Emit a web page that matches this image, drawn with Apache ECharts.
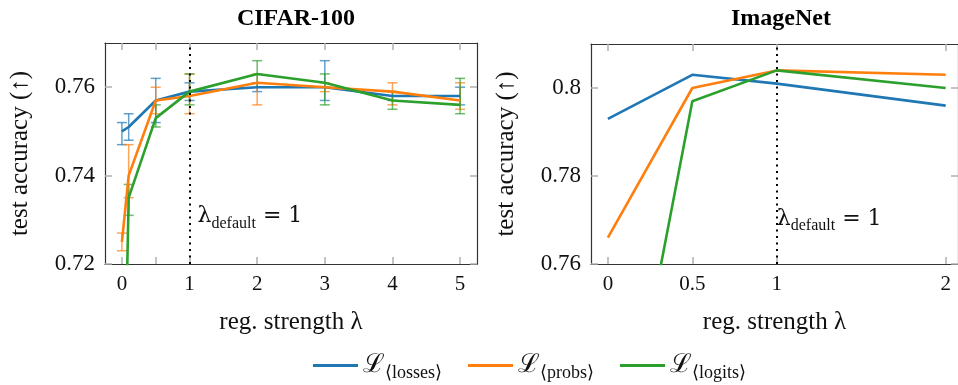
<!DOCTYPE html>
<html>
<head>
<meta charset="utf-8">
<script src="https://cdn.jsdelivr.net/npm/echarts@6/dist/echarts.min.js"></script>
<style>
  html, body { margin: 0; padding: 0; background: #fff; }
  #chart { width: 958px; height: 385px; }
</style>
</head>
<body>
<div id="chart"></div>
<script>
// CIFAR-100 (mean with lower / upper error bar)
const cifarX = [0, 0.1, 0.5, 1, 2, 3, 4, 5];
const cifarLosses = [0.750, 0.751, 0.757, 0.759, 0.760, 0.760, 0.758, 0.758];
const cifarLossesLo = [0.747, 0.748, 0.752, 0.757, 0.759, 0.757, 0.757, 0.756];
const cifarLossesHi = [0.752, 0.754, 0.762, 0.761, 0.761, 0.766, 0.759, 0.760];
const cifarProbs = [0.725, 0.740, 0.757, 0.758, 0.761, 0.760, 0.759, 0.757];
const cifarProbsLo = [0.723, 0.735, 0.754, 0.754, 0.756, 0.759, 0.756, 0.755];
const cifarProbsHi = [0.727, 0.747, 0.760, 0.763, 0.763, 0.761, 0.761, 0.761];
const cifarLogits = [0.660, 0.735, 0.753, 0.759, 0.763, 0.761, 0.757, 0.756];
const cifarLogitsLo = [0.655, 0.731, 0.751, 0.756, 0.760, 0.756, 0.755, 0.754];
const cifarLogitsHi = [0.665, 0.738, 0.756, 0.763, 0.766, 0.763, 0.759, 0.762];

// ImageNet
const imagenetX = [0, 0.5, 1, 2];
const imagenetLosses = [0.793, 0.803, 0.801, 0.796];
const imagenetProbs = [0.766, 0.800, 0.804, 0.803];
const imagenetLogits = [0.697, 0.797, 0.804, 0.800];

const cifarXTicks = [0, 0.5, 1, 2, 3, 4, 5];
const cifarXLabels = [0, 1, 2, 3, 4, 5];
const cifarYTicks = [0.72, 0.74, 0.76];
const imagenetXTicks = [0, 0.5, 1, 2];
const imagenetYTicks = [0.76, 0.78, 0.8];

const names = ["losses", "probs", "logits"];
const colors = ["#1f77b4", "#ff7f0e", "#2ca02c"];
const defaultLambda = 1;

const serif = "Liberation Serif";
const boxLine = { show: true, onZero: false, lineStyle: { color: "#333", width: 1.2 } };
const tickStyle = { color: "#b0b0b0", width: 1.5 };

const pairs = (xs, ys) => xs.map((x, i) => [x, ys[i]]);
const bars = (xs, lo, hi) => xs.map((x, i) => [x, lo[i], hi[i]]);

function xAxes(gridIndex, min, max, ticks, labels) {
  return [
    {
      type: "value", gridIndex, min, max, position: "bottom",
      axisLine: boxLine, splitLine: { show: false },
      axisTick: { inside: true, length: 7, lineStyle: tickStyle, customValues: ticks },
      axisLabel: { customValues: labels, fontFamily: serif, fontSize: 21, color: "#111", margin: 10 },
      name: "reg. strength λ", nameLocation: "middle", nameGap: 46,
      nameTextStyle: { fontFamily: serif, fontSize: 25, color: "#111" },
    },
    {
      type: "value", gridIndex, min, max, position: "top",
      axisLine: boxLine, splitLine: { show: false },
      axisTick: { inside: true, length: 7, lineStyle: tickStyle, customValues: ticks },
      axisLabel: { show: false },
    },
  ];
}

function yAxes(gridIndex, min, max, ticks) {
  return [
    {
      type: "value", gridIndex, min, max, position: "left",
      axisLine: boxLine, splitLine: { show: false },
      axisTick: { inside: true, length: 7, lineStyle: tickStyle, customValues: ticks },
      axisLabel: { customValues: ticks, fontFamily: serif, fontSize: 23, color: "#111", margin: 10 },
      name: "test accuracy (↑)", nameLocation: "middle", nameGap: 72,
      nameTextStyle: { fontFamily: serif, fontSize: 25, color: "#111" },
    },
    {
      type: "value", gridIndex, min, max, position: "right",
      axisLine: boxLine, splitLine: { show: false },
      axisTick: { inside: true, length: 7, lineStyle: tickStyle, customValues: ticks },
      axisLabel: { show: false },
    },
  ];
}

function lineSeries(name, color, xIdx, yIdx, data) {
  return {
    name, type: "line", xAxisIndex: xIdx, yAxisIndex: yIdx,
    data, symbol: "none", clip: true,
    lineStyle: { color, width: 2.6 }, itemStyle: { color },
  };
}

function errorSeries(name, color, data) {
  return {
    name, type: "custom", xAxisIndex: 0, yAxisIndex: 0, clip: true,
    data, encode: { x: 0, y: [1, 2] },
    renderItem(params, api) {
      const x = api.value(0);
      const top = api.coord([x, api.value(2)]);
      const bot = api.coord([x, api.value(1)]);
      const w = 5;
      const style = { stroke: color, lineWidth: 1.5, opacity: 0.7 };
      return {
        type: "group",
        children: [
          { type: "line", shape: { x1: top[0], y1: top[1], x2: bot[0], y2: bot[1] }, style },
          { type: "line", shape: { x1: top[0] - w, y1: top[1], x2: top[0] + w, y2: top[1] }, style },
          { type: "line", shape: { x1: bot[0] - w, y1: bot[1], x2: bot[0] + w, y2: bot[1] }, style },
        ],
      };
    },
  };
}

function defaultMarks(yLabel, dist) {
  return {
    markLine: {
      silent: true, symbol: "none", animation: false,
      lineStyle: { color: "#000", type: [2, 4.5], width: 2 },
      label: { show: false },
      data: [{ xAxis: defaultLambda }],
    },
    markPoint: {
      silent: true, symbol: "circle", symbolSize: 0, animation: false,
      data: [{ coord: [defaultLambda, yLabel] }],
      label: {
        show: true, position: "right", distance: dist,
        formatter: "{l|λ}{s|default}{e| = 1}",
        rich: {
          l: { fontFamily: "DejaVu Serif", fontSize: 22, color: "#111", lineHeight: 24, verticalAlign: "top" },
          s: { fontFamily: serif, fontSize: 16, color: "#111", lineHeight: 16, padding: [10, 0, 0, 0], verticalAlign: "top" },
          e: { fontFamily: "DejaVu Serif", fontSize: 22, color: "#111", lineHeight: 24, verticalAlign: "top" },
        },
      },
    },
  };
}

const cifarMeans = [cifarLosses, cifarProbs, cifarLogits];
const cifarLos = [cifarLossesLo, cifarProbsLo, cifarLogitsLo];
const cifarHis = [cifarLossesHi, cifarProbsHi, cifarLogitsHi];
const imagenetMeans = [imagenetLosses, imagenetProbs, imagenetLogits];

const series = [];
names.forEach((n, i) => {
  series.push(lineSeries(n, colors[i], 0, 0, pairs(cifarX, cifarMeans[i])));
  series.push(errorSeries(n, colors[i], bars(cifarX, cifarLos[i], cifarHis[i])));
});
names.forEach((n, i) => {
  series.push(lineSeries(n, colors[i], 2, 2, pairs(imagenetX, imagenetMeans[i])));
});
Object.assign(series[0], defaultMarks(0.7305, 8));
Object.assign(series[6], defaultMarks(0.7700, 0));

const chart = echarts.init(document.getElementById("chart"), null, { renderer: "canvas" });
chart.setOption({
  animation: false,
  backgroundColor: "#fff",
  title: [
    { text: "CIFAR-100", left: 291, top: 2, textAlign: "center",
      textStyle: { fontFamily: serif, fontWeight: "bold", fontSize: 24, color: "#000" } },
    { text: "ImageNet", left: 776, top: 2, textAlign: "center",
      textStyle: { fontFamily: serif, fontWeight: "bold", fontSize: 24, color: "#000" } },
  ],
  grid: [
    { left: 105, top: 43, width: 372, height: 221 },
    { left: 591, top: 44, right: 0, height: 220 },
  ],
  xAxis: [
    ...xAxes(0, -0.25, 5.25, cifarXTicks, cifarXLabels),
    ...xAxes(1, -0.1, 2.073, imagenetXTicks, imagenetXTicks),
  ],
  yAxis: [
    ...yAxes(0, 0.72, 0.77, cifarYTicks),
    ...yAxes(1, 0.76, 0.81, imagenetYTicks),
  ],
  legend: {
    data: names, top: 347, left: 308,
    icon: "rect", itemWidth: 45, itemHeight: 3, itemGap: 26,
    formatter: (name) => `{L|ℒ}{s|⟨${name}⟩}`,
    textStyle: {
      color: "#111",
      rich: {
        L: { fontFamily: "DejaVu Serif", fontSize: 26, lineHeight: 27, verticalAlign: "top" },
        s: { fontFamily: serif, fontSize: 18, lineHeight: 18, padding: [12, 0, 0, 0], verticalAlign: "top" },
      },
    },
  },
  series,
});
</script>
</body>
</html>
